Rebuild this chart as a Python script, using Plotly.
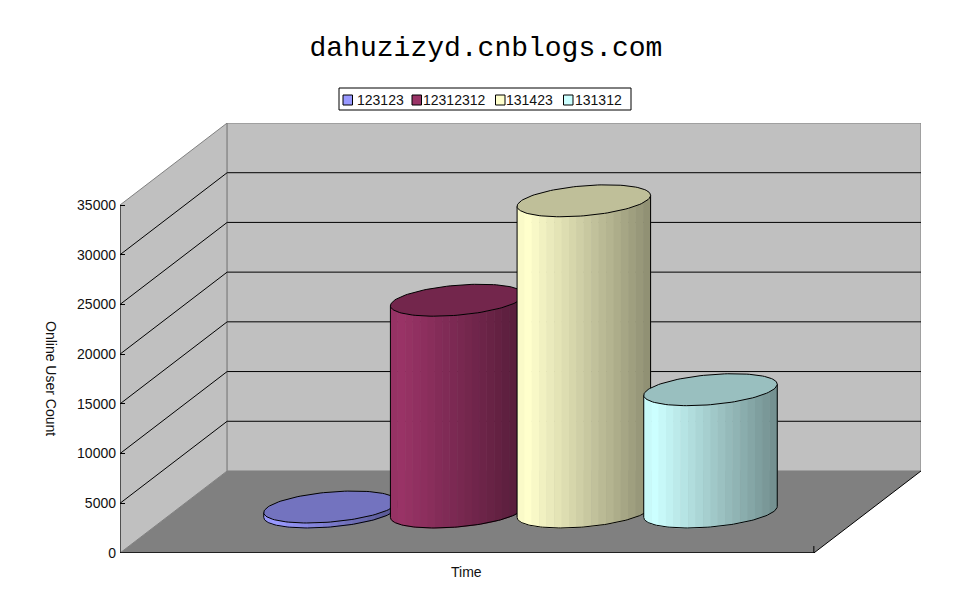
import numpy as np
import plotly.graph_objects as go

# values
series_names = ['123123', '12312312', '131423', '131312']
series_values = [500, 21300, 31300, 12300]
series_colors = [(153, 153, 255), (153, 51, 102), (255, 255, 204), (204, 255, 255)]
y_ticks = [0, 5000, 10000, 15000, 20000, 25000, 30000, 35000]

title_text = 'dahuzizyd.cnblogs.com'
x_title = 'Time'
y_title = 'Online User Count'

# 3d look: x in category units, y in value units
DEPTH_X = 0.846
DEPTH_Y = 8250
X_LEFT = -1.239
X_RIGHT = 4.239
Y_TOP = y_ticks[-1]
RADIUS_X = 0.527
RADIUS_Y = 1509
SKEW_Y = 553
N_BANDS = 18

TICK_FONT = dict(family='Liberation Sans', size=14, color='#111111')


def scale(rgb, k):
    return 'rgb(%d,%d,%d)' % tuple(round(c * k) for c in rgb)


def poly(fig, xs, ys, fill, line='rgba(0,0,0,0)', width=1):
    fig.add_trace(go.Scatter(x=xs, y=ys, mode='lines', fill='toself', fillcolor=fill,
                             line=dict(color=line, width=width), hoverinfo='skip',
                             showlegend=False, cliponaxis=False))


def line(fig, xs, ys, color='black', width=1):
    fig.add_trace(go.Scatter(x=xs, y=ys, mode='lines', line=dict(color=color, width=width),
                             hoverinfo='skip', showlegend=False, cliponaxis=False))


def lower_edge(dx, level):
    # front half of the tilted ellipse at offset dx from the centre
    c = dx / RADIUS_X
    return level - RADIUS_Y * np.sqrt(np.clip(1 - c * c, 0, 1)) + SKEW_Y * c


def add_cylinder(fig, center, value, rgb):
    base = DEPTH_Y / 2
    top = base + value

    edges = np.linspace(-RADIUS_X, RADIUS_X, N_BANDS + 1)
    for i in range(N_BANDS):
        ds = np.linspace(edges[i], edges[i + 1], 5)
        xs = center + ds
        shade = 0.98 if i == 0 else 1.0 - 0.43 * (i - 1) / (N_BANDS - 2)
        color = scale(rgb, shade)
        poly(fig,
             list(xs) + list(xs[::-1]),
             list(lower_edge(ds, base)) + list(lower_edge(ds[::-1], top)),
             color, line=color, width=1)

    # body outline
    ds = RADIUS_X * np.cos(np.linspace(np.pi, 0, 81))
    line(fig, center + ds, lower_edge(ds, base))
    line(fig, [center - RADIUS_X] * 2, [base - SKEW_Y, top - SKEW_Y])
    line(fig, [center + RADIUS_X] * 2, [base + SKEW_Y, top + SKEW_Y])

    # lid
    t = np.linspace(0, 2 * np.pi, 121)
    poly(fig, center + RADIUS_X * np.cos(t),
         top + RADIUS_Y * np.sin(t) + SKEW_Y * np.cos(t),
         scale(rgb, 0.75), line='black', width=1)


fig = go.Figure()

# walls and floor
poly(fig, [X_LEFT, X_LEFT + DEPTH_X, X_LEFT + DEPTH_X, X_LEFT, X_LEFT],
     [0, DEPTH_Y, Y_TOP + DEPTH_Y, Y_TOP, 0], '#c0c0c0', line='#808080')
poly(fig, [X_LEFT + DEPTH_X, X_RIGHT + DEPTH_X, X_RIGHT + DEPTH_X, X_LEFT + DEPTH_X, X_LEFT + DEPTH_X],
     [DEPTH_Y, DEPTH_Y, Y_TOP + DEPTH_Y, Y_TOP + DEPTH_Y, DEPTH_Y], '#c0c0c0', line='#808080')
poly(fig, [X_LEFT, X_RIGHT, X_RIGHT + DEPTH_X, X_LEFT + DEPTH_X, X_LEFT],
     [0, 0, DEPTH_Y, DEPTH_Y, 0], '#808080')

# grid lines
for v in y_ticks[1:-1]:
    line(fig, [X_LEFT, X_LEFT + DEPTH_X, X_RIGHT + DEPTH_X], [v, v + DEPTH_Y, v + DEPTH_Y])

# axis lines
line(fig, [X_LEFT, X_LEFT], [0, Y_TOP])
line(fig, [X_LEFT, X_RIGHT], [0, 0], width=1.5)
line(fig, [X_RIGHT, X_RIGHT + DEPTH_X], [0, DEPTH_Y])
line(fig, [X_RIGHT, X_RIGHT], [0, 700])

for i, value in enumerate(series_values):
    add_cylinder(fig, i + DEPTH_X / 2, value, series_colors[i])

fig.update_layout(
    width=970, height=604,
    margin=dict(l=120, r=49, t=123, b=51, pad=0, autoexpand=False),
    paper_bgcolor='white', plot_bgcolor='white',
    showlegend=False,
    title=dict(text=title_text, x=486 / 970, xanchor='center', y=1 - 46 / 604, yanchor='middle',
               font=dict(family='Liberation Mono', size=28, color='black')),
    xaxis=dict(range=[X_LEFT, X_RIGHT + DEPTH_X], visible=False, fixedrange=True),
    yaxis=dict(range=[0, Y_TOP + DEPTH_Y], tickvals=y_ticks, ticktext=[str(v) for v in y_ticks],
               ticks='inside', ticklen=5, tickcolor='black', showgrid=False, zeroline=False,
               showline=False, tickfont=TICK_FONT, ticklabelstandoff=3, fixedrange=True),
)


def px_x(p):
    return (p - 120) / 801


def px_y(p):
    return (553 - p) / 430


fig.add_annotation(text=x_title, xref='paper', yref='paper', x=px_x(466), y=px_y(572),
                   showarrow=False, font=TICK_FONT, yanchor='middle')
fig.add_annotation(text=y_title, xref='paper', yref='paper', x=px_x(51), y=px_y(378),
                   xanchor='center', yanchor='middle',
                   showarrow=False, font=TICK_FONT, textangle=90)

# legend box, kept tight like the original
box = dict(xref='paper', yref='paper')
fig.add_shape(type='rect', x0=px_x(339), x1=px_x(631), y0=px_y(110), y1=px_y(88),
              line=dict(color='black', width=1), fillcolor='white', **box)
swatch_left = [343, 412, 495.5, 563.5]
label_left = [355, 421, 503.5, 573]
for name, rgb, left, text_left in zip(series_names, series_colors, swatch_left, label_left):
    fig.add_shape(type='rect', x0=px_x(left), x1=px_x(left + 9.5), y0=px_y(105), y1=px_y(95),
                  line=dict(color='black', width=1), fillcolor=scale(rgb, 1), **box)
    fig.add_annotation(text=name, x=px_x(text_left), y=px_y(99.5), xanchor='left', yanchor='middle',
                       showarrow=False, font=TICK_FONT, **box)

fig.write_html('out.html', config={'displayModeBar': False},
               post_script="document.body.style.margin='0';")
